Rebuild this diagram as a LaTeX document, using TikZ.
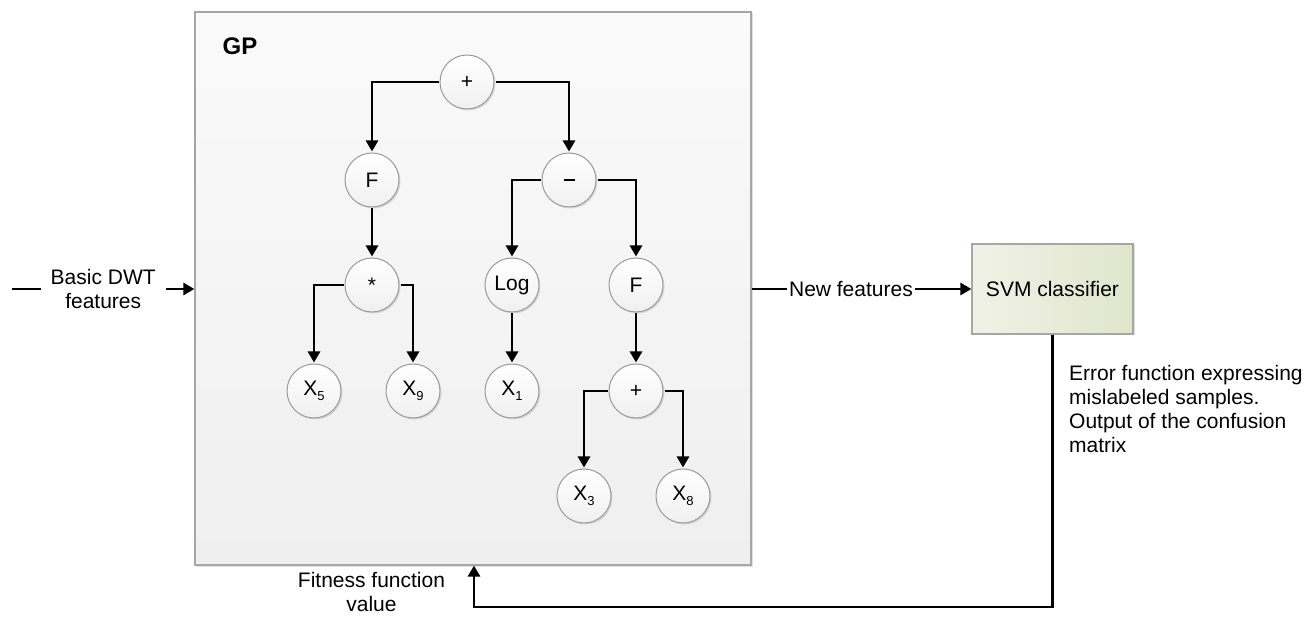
\documentclass[tikz,border=0pt]{standalone}
\usepackage{fontspec}
\setmainfont{Liberation Sans}
\usetikzlibrary{arrows.meta,shadows,calc}
\definecolor{gpborder}{HTML}{A6A6A6}
\definecolor{gptop}{HTML}{FAFAFA}
\definecolor{gpbot}{HTML}{EFEFEF}
\definecolor{svml}{HTML}{F0F2E6}
\definecolor{svmr}{HTML}{E0E5CC}
\definecolor{circborder}{HTML}{9A9A9A}
\definecolor{circbot}{HTML}{F0F0F0}
\tikzset{
  gpbox/.style={draw=gpborder, line width=1.2pt, top color=gptop, bottom color=gpbot,
    drop shadow={shadow xshift=1.5pt, shadow yshift=-1.5pt, opacity=0.25, fill=gray}},
  svmbox/.style={draw=gpborder, line width=1.2pt, left color=svml, right color=svmr,
    minimum width=161pt, minimum height=90pt, inner sep=0pt,
    drop shadow={shadow xshift=1.5pt, shadow yshift=-1.5pt, opacity=0.25, fill=gray}},
  tnode/.style={circle, draw=circborder, line width=1pt, top color=white, bottom color=circbot,
    minimum size=54pt, inner sep=0pt, outer sep=1.5pt,
    drop shadow={shadow xshift=1.5pt, shadow yshift=-1.5pt, opacity=0.25, fill=gray}},
  arr/.style={line width=2.7pt, -{Triangle[length=11pt,width=12pt]}},
  lbl/.style={align=center, inner sep=0pt},
}
\newcommand{\xsub}[1]{X\raisebox{-5pt}{\fontsize{13}{13}\selectfont #1}}
\begin{document}
\begin{tikzpicture}[x=1pt,y=-1pt]
\fontsize{21}{24}\selectfont
\useasboundingbox (0,0) rectangle (1310,617);

% GP container
\node[gpbox, minimum width=556pt, minimum height=553pt, inner sep=0pt] (GP) at (473,288.5) {};
\node[inner sep=0pt, font=\fontsize{24}{24}\selectfont\bfseries] (gplabel) at (240,46) {GP};

% tree nodes
\node[tnode] (p1) at (467,82) {+};
\node[tnode] (f1) at (372,180) {F};
\node[tnode] (m1) at (569,180) {\rule{11pt}{1.4pt}};
\node[tnode] (s1) at (372,285) {\raisebox{-3pt}{*}};
\node[tnode] (lg) at (512,285) {Log};
\node[tnode] (f2) at (636,285) {F};
\node[tnode] (x5) at (314,391) {\xsub{5}};
\node[tnode] (x9) at (413,391) {\xsub{9}};
\node[tnode] (x1) at (512,391) {\xsub{1}};
\node[tnode] (p2) at (636,391) {+};
\node[tnode] (x3) at (584,496) {\xsub{3}};
\node[tnode] (x8) at (683,496) {\xsub{8}};

% tree edges
\draw[arr] (p1.west) -| (f1.north);
\draw[arr] (p1.east) -| (m1.north);
\draw[arr] (f1.south) -- (s1.north);
\draw[arr] (m1.west) -| (lg.north);
\draw[arr] (m1.east) -| (f2.north);
\draw[arr] (s1.west) -| (x5.north);
\draw[arr] (s1.east) -| (x9.north);
\draw[arr] (lg.south) -- (x1.north);
\draw[arr] (f2.south) -- (p2.north);
\draw[arr] (p2.west) -| (x3.north);
\draw[arr] (p2.east) -| (x8.north);

% SVM
\node[svmbox] (svm) at (1052.5,289) {SVM classifier};

% input
\coordinate (in) at (12,289);
\draw[arr] (in) -- node[lbl, fill=white, inner xsep=10pt] (inlabel) {Basic DWT\\features} (GP.west |- in);

% new features
\draw[arr] (GP.east |- svm.west) -- node[pos=0.452, lbl, fill=white, inner xsep=2pt] (nflabel) {New features} (svm.west);

% feedback
\coordinate (fb) at (474,607);
\draw[arr] (svm.south) |- (fb) -- (fb |- GP.south);

% labels
\node[lbl] (fitlabel) at (371.5,592) {Fitness function\\value};
\node[align=left, inner sep=0pt, anchor=west] (errlabel) at (1069,408.5)
  {Error function expressing\\mislabeled samples.\\Output of the confusion\\matrix};
\end{tikzpicture}
\end{document}
